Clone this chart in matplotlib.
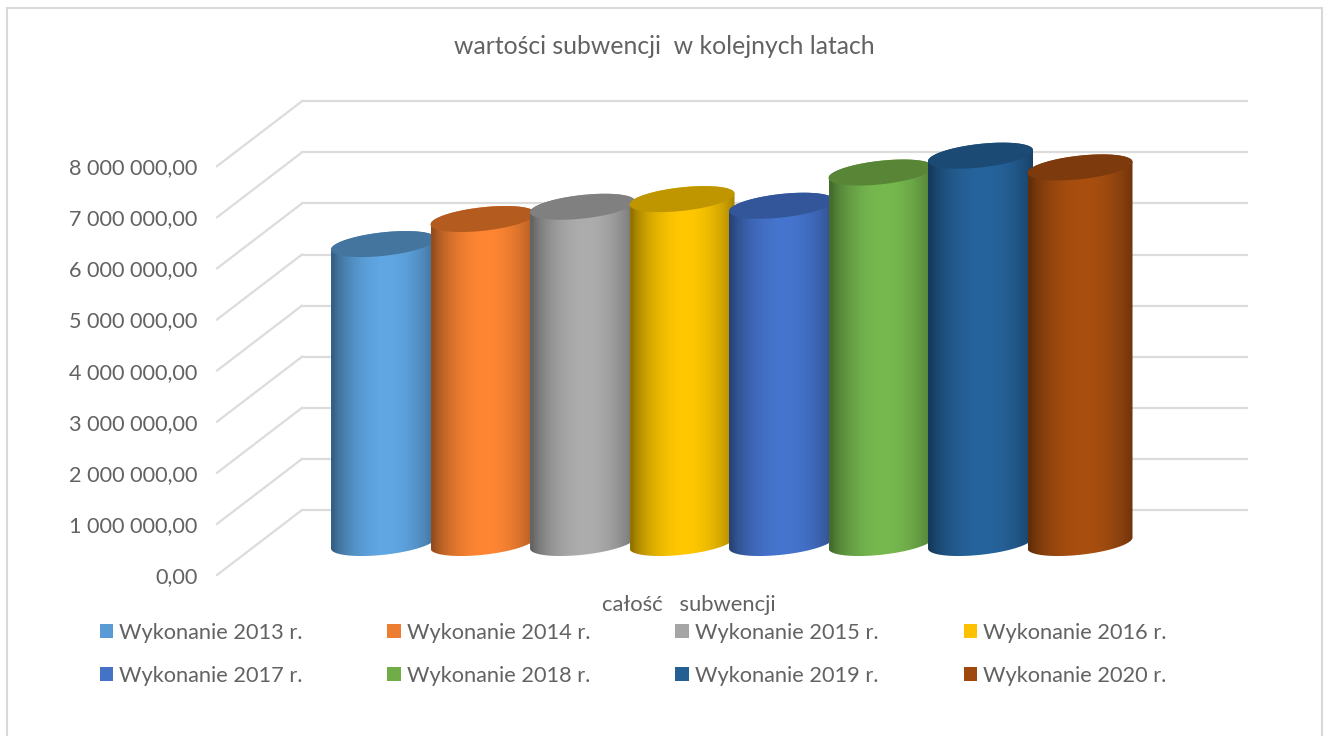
import matplotlib
matplotlib.use('Agg')
import matplotlib.pyplot as plt
from matplotlib.colors import to_rgb
from matplotlib.patches import Patch, Polygon, Rectangle
import numpy as np

labels = ['Wykonanie 2013 r.', 'Wykonanie 2014 r.', 'Wykonanie 2015 r.', 'Wykonanie 2016 r.',
          'Wykonanie 2017 r.', 'Wykonanie 2018 r.', 'Wykonanie 2019 r.', 'Wykonanie 2020 r.']
values = [5850000, 6340000, 6580000, 6730000, 6600000, 7250000, 7580000, 7350000]
side_colors = ['#60A7E4', '#FF8633', '#ADADAD', '#FFC800', '#4675CF', '#77B94F', '#26649D', '#A94F10']
top_colors = ['#44759F', '#B45C20', '#808080', '#BF9600', '#335599', '#588636', '#1B4A75', '#7D3A0C']
legend_colors = ['#5B9BD5', '#ED7D31', '#A5A5A5', '#FFC000', '#4472C4', '#70AD47', '#255E91', '#9E480E']
yticks = [0, 1000000, 2000000, 3000000, 4000000, 5000000, 6000000, 7000000, 8000000]
ytick_labels = ['0,00', '1 000 000,00', '2 000 000,00', '3 000 000,00', '4 000 000,00',
                '5 000 000,00', '6 000 000,00', '7 000 000,00', '8 000 000,00']

plt.rcParams['font.family'] = ['Lato', 'DejaVu Sans']
text_color = '#626262'
grid_color = '#DCDCDC'

W, H = 1326, 736
fig = plt.figure(figsize=(W / 100, H / 100), dpi=100)
fig.add_artist(Rectangle((7 / W, -0.01), 1315 / W, 1 - 8 / H + 0.01, transform=fig.transFigure,
                         fill=False, ec='#D9D9D9', lw=1.5))

# axes run from the front of the floor to the right end of the back wall
ax = fig.add_axes([217 / W, 1 - 575 / H, (1247 - 217) / W, (575 - 101) / H])
px_x = 99.5                 # pixels per bar slot
px_y = 51.1 / 1000000       # pixels per unit of value
ax.set_xlim((217 - 383.5) / px_x, (1247 - 383.5) / px_x)
ax.set_ylim(0, 474 / px_y)
for s in ax.spines.values():
    s.set_visible(False)
ax.patch.set_alpha(0)

# depth of the box
dx = 85 / px_x
dy = 65 / px_y
x0 = ax.get_xlim()[0]
x1 = ax.get_xlim()[1]
for t in yticks:
    ax.plot([x0, x0 + dx], [t, t + dy], color=grid_color, lw=1.6, zorder=1, clip_on=False)
    ax.plot([x0 + dx, x1], [t + dy, t + dy], color=grid_color, lw=1.6, zorder=1, clip_on=False)

ax.set_xticks([])
ax.set_yticks(yticks)
ax.set_yticklabels(ytick_labels, fontsize=15.6, color=text_color)
ax.tick_params(axis='y', length=0, pad=14)

# cylinder shape, in slot / value units
a = 52.5 / px_x
b = 11.8 / px_y
slope = (11 / 105) / px_y * px_x
floor = 32 / px_y


def ring(cx, cy, t):
    xs = a * np.cos(t)
    return cx + xs, cy + b * np.sin(t) + slope * xs


u = np.linspace(-1, 1, 200)
shade = 0.58 + 0.42 * np.cos(np.clip(u - 0.05, -1, 1) * np.pi / 2) ** 0.7
shade = shade[:, None]

for i, v in enumerate(values):
    z = 2 + i
    cy = floor + v
    t_low = np.linspace(np.pi, 2 * np.pi, 80)
    t_up = np.linspace(0, np.pi, 80)
    bx, by = ring(i, floor, t_low)
    tx, ty = ring(i, cy, t_up)
    body = Polygon(np.column_stack([np.r_[bx, tx], np.r_[by, ty]]), closed=True,
                   transform=ax.transData, fc='none', ec='none')
    ax.add_patch(body)
    grad = (np.array(to_rgb(side_colors[i])) * shade)[None, :, :]
    im = ax.imshow(grad, extent=(i - a, i + a, 0, 474 / px_y), aspect='auto',
                   origin='lower', interpolation='bilinear', zorder=z)
    im.set_clip_path(body)
    ex, ey = ring(i, cy, np.linspace(0, 2 * np.pi, 160))
    ax.fill(ex, ey, color=top_colors[i], lw=0, zorder=z + 0.5)

ax.set_xlim((217 - 383.5) / px_x, (1247 - 383.5) / px_x)
ax.set_ylim(0, 474 / px_y)

fig.text(664 / W, 1 - 47 / H, 'wartości subwencji  w kolejnych latach', fontsize=17.8,
         color=text_color, ha='center', va='center')
fig.text(689 / W, 1 - 605 / H, 'całość   subwencji', fontsize=15.8,
         color=text_color, ha='center', va='center')

# columns fill first in a legend, so swap into reading order
order = [0, 4, 1, 5, 2, 6, 3, 7]
handles = [Patch(fc=legend_colors[i], ec='none', label=labels[i]) for i in order]
fig.legend(handles=handles, ncol=4, frameon=False, fontsize=15.7, labelcolor=text_color,
           loc='upper left', bbox_to_anchor=(93 / W, 1 - 616.5 / H), borderaxespad=0, borderpad=0.3,
           handlelength=0.62, handleheight=0.62, handletextpad=0.27, columnspacing=3.9,
           labelspacing=1.03)

fig.savefig('out.png', dpi=100, facecolor='white')
